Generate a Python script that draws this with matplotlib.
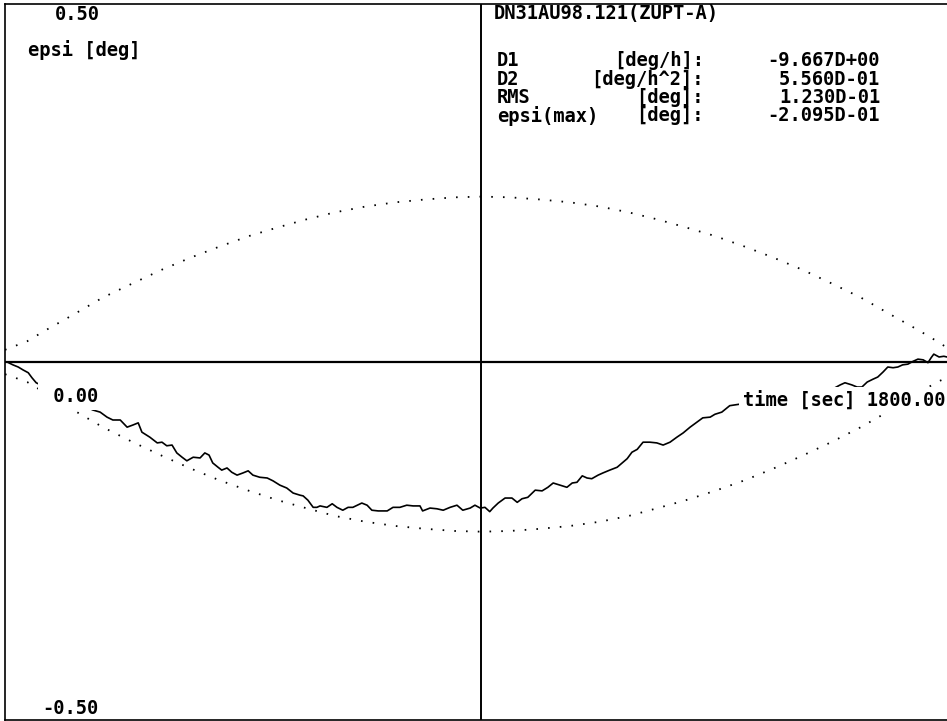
"""
epsi drift plot, DN31AU98.121 (ZUPT-A).
"""

import matplotlib
matplotlib.use('Agg')
import matplotlib.pyplot as plt

# measured heading error
time_s = [0, 4, 15, 25, 34, 44, 51, 59, 166, 180, 193, 204, 218, 231, 242, 252, 259,
          274, 288, 297, 306, 316, 325, 335, 344, 356, 369, 378, 386, 393, 403, 410,
          420, 429, 439, 450, 460, 469, 482, 496, 507, 520, 533, 545, 558, 564, 573,
          583, 590, 596, 609, 619, 628, 639, 649, 658, 675, 685, 694, 706, 723, 734,
          747, 760, 772, 785, 790, 804, 817, 829, 842, 855, 866, 880, 889, 899, 908,
          917, 923, 933, 946, 959, 969, 978, 989, 1003, 1016, 1027, 1037, 1050, 1063,
          1073, 1082, 1092, 1101, 1110, 1122, 1131, 1144, 1158, 1169, 1177, 1186,
          1196, 1207, 1220, 1233, 1245, 1258, 1271, 1283, 1296, 1309, 1320, 1334,
          1343, 1356, 1366, 1371, 1470, 1570, 1580, 1589, 1602, 1612, 1621, 1631,
          1642, 1651, 1661, 1670, 1680, 1689, 1698, 1708, 1718, 1727, 1737, 1746,
          1752, 1757, 1767, 1776, 1782]
epsi_deg = [0.000, 0.000, -0.004, -0.007, -0.011, -0.015, -0.022, -0.029, -0.067,
            -0.070, -0.077, -0.081, -0.081, -0.091, -0.088, -0.085, -0.098, -0.105,
            -0.113, -0.112, -0.117, -0.116, -0.127, -0.133, -0.138, -0.133, -0.134,
            -0.127, -0.130, -0.141, -0.147, -0.151, -0.148, -0.154, -0.158, -0.155,
            -0.152, -0.158, -0.161, -0.162, -0.166, -0.172, -0.176, -0.183, -0.186,
            -0.187, -0.193, -0.203, -0.203, -0.201, -0.203, -0.198, -0.203, -0.207,
            -0.203, -0.203, -0.197, -0.200, -0.207, -0.208, -0.208, -0.203, -0.203,
            -0.200, -0.201, -0.201, -0.208, -0.204, -0.205, -0.207, -0.203, -0.200,
            -0.207, -0.204, -0.200, -0.204, -0.203, -0.209, -0.204, -0.197, -0.190,
            -0.190, -0.196, -0.191, -0.189, -0.179, -0.180, -0.175, -0.169, -0.172,
            -0.175, -0.169, -0.168, -0.159, -0.162, -0.163, -0.158, -0.155, -0.151,
            -0.147, -0.140, -0.135, -0.126, -0.122, -0.112, -0.112, -0.113, -0.116,
            -0.112, -0.105, -0.099, -0.091, -0.084, -0.078, -0.077, -0.073, -0.070,
            -0.064, -0.061, -0.050, -0.036, -0.032, -0.029, -0.032, -0.035, -0.035,
            -0.028, -0.024, -0.021, -0.014, -0.007, -0.008, -0.007, -0.004, -0.003,
            0.001, 0.004, 0.003, -0.001, 0.006, 0.011, 0.007, 0.008, 0.007]

# dotted bounds
env_time = [0, 42, 76, 129, 185, 242, 297, 352, 405, 462, 516, 569, 624, 681, 738,
            795, 851, 902, 955, 1012, 1069, 1126, 1180, 1235, 1288, 1343, 1400, 1453,
            1508, 1563, 1619, 1676, 1729, 1763, 1782]
env_upper = [0.017, 0.029, 0.044, 0.066, 0.090, 0.110, 0.129, 0.146, 0.161, 0.176,
             0.188, 0.199, 0.209, 0.217, 0.223, 0.227, 0.230, 0.231, 0.230, 0.227,
             0.223, 0.217, 0.209, 0.199, 0.188, 0.176, 0.161, 0.146, 0.129, 0.110,
             0.090, 0.066, 0.044, 0.029, 0.020]
env_lower = [-0.017, -0.028, -0.043, -0.067, -0.091, -0.112, -0.131, -0.149, -0.165,
             -0.180, -0.193, -0.204, -0.215, -0.223, -0.229, -0.233, -0.236, -0.237,
             -0.236, -0.233, -0.229, -0.223, -0.215, -0.204, -0.193, -0.180, -0.165,
             -0.149, -0.131, -0.112, -0.091, -0.067, -0.043, -0.028, -0.022]

title = 'DN31AU98.121(ZUPT-A)'
stat_names = ['D1', 'D2', 'RMS', 'epsi(max)']
stat_units = ['[deg/h]:', '[deg/h^2]:', '[deg]:', '[deg]:']
stat_values = ['-9.667D+00', '5.560D-01', '1.230D-01', '-2.095D-01']

W, H = 947, 721
FONT = dict(family='DejaVu Sans Mono', fontsize=13.5, fontweight='bold', color='black')


def px(x, y):
    # pixel position -> figure fraction
    return x / W, 1 - y / H


fig = plt.figure(figsize=(W / 100, H / 100), dpi=100)
ax = fig.add_axes([5 / W, 1 / H, (W - 5) / W, 716 / H])
ax.set_xlim(0, 1782)
ax.set_ylim(-0.5, 0.5)
ax.set_xticks([])
ax.set_yticks([])
for side in ['left', 'top', 'bottom']:
    ax.spines[side].set_linewidth(1.2)
ax.spines['right'].set_visible(False)

ax.axhline(0, color='black', linewidth=1.6)
ax.axvline(900, color='black', linewidth=1.4)

dots = (0, (0.9, 5.6))
ax.plot(env_time, env_upper, color='black', linewidth=1.3, linestyle=dots, dash_capstyle='butt')
ax.plot(env_time, env_lower, color='black', linewidth=1.3, linestyle=dots, dash_capstyle='butt')
ax.plot(time_s, epsi_deg, color='black', linewidth=1.2)

box = dict(facecolor='white', edgecolor='none', pad=2.5)
fig.text(*px(100, 15), '0.50', ha='right', va='center', **FONT)
fig.text(*px(28, 50), 'epsi [deg]', ha='left', va='center', **FONT)
fig.text(*px(98, 396), ' 0.00', ha='right', va='center', bbox=dict(box, pad=3), **FONT)
fig.text(*px(98, 709), '-0.50', ha='right', va='center', **FONT)
fig.text(*px(945, 400), 'time [sec] 1800.00', ha='right', va='center', bbox=box, **FONT)

fig.text(*px(494, 13), title, ha='left', va='center', **FONT)
for i in range(len(stat_names)):
    y = 61 + 18.3 * i
    fig.text(*px(497, y), stat_names[i], ha='left', va='center', **FONT)
    fig.text(*px(704, y), stat_units[i], ha='right', va='center', **FONT)
    fig.text(*px(880, y), stat_values[i], ha='right', va='center', **FONT)

fig.savefig('out.png', dpi=100)
plt.close(fig)
